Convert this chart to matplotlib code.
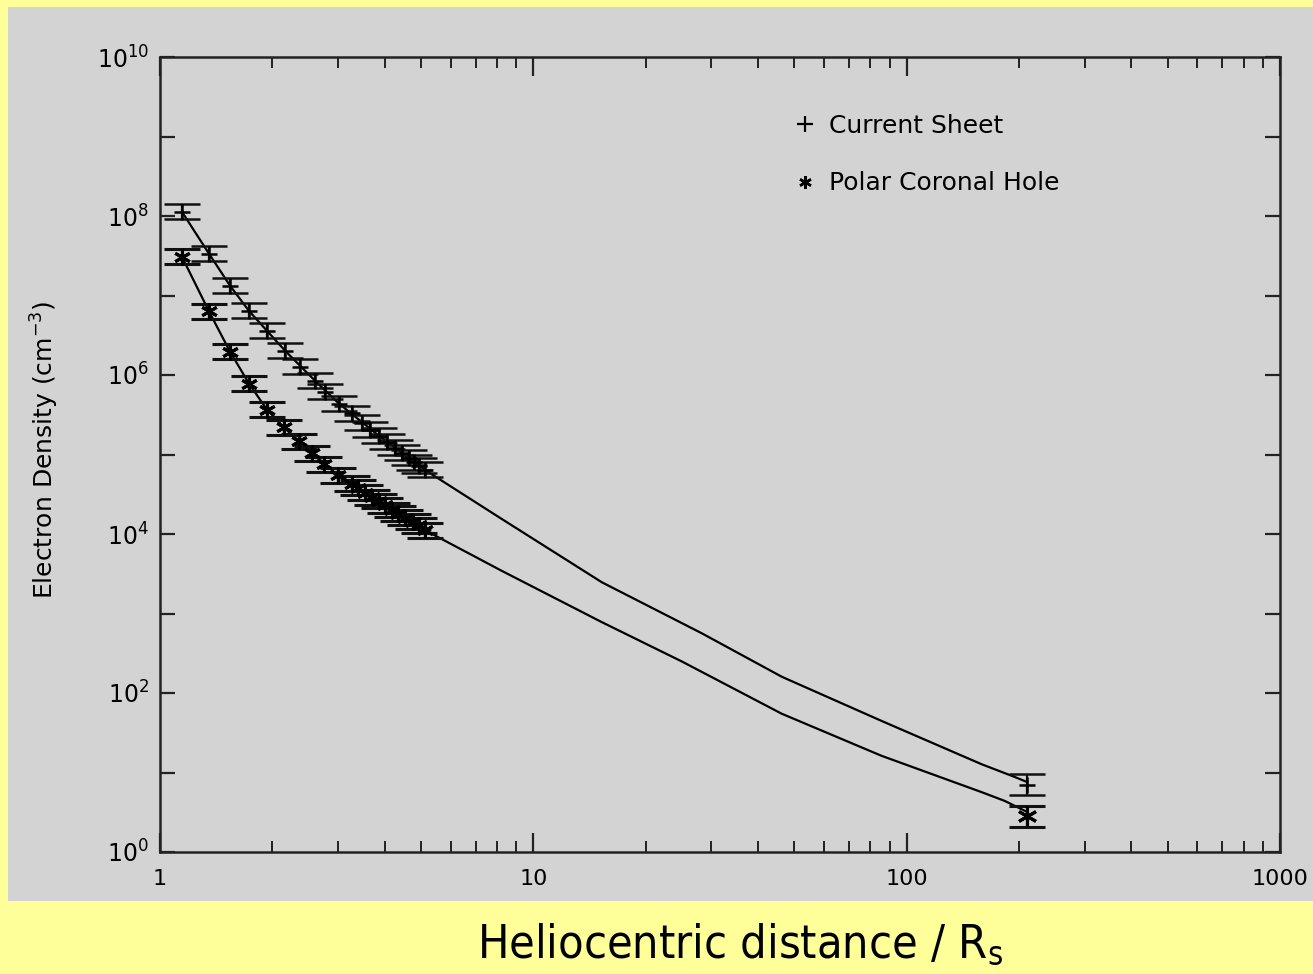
import matplotlib
matplotlib.use("Agg")
import matplotlib.pyplot as plt
from matplotlib.lines import Line2D
from matplotlib.patches import Rectangle
import numpy as np

# ---------------- data ----------------
cs_r = [1.145, 1.353, 1.540, 1.731, 1.934, 2.161, 2.371, 2.600, 2.765, 3.015,
        3.27, 3.475, 3.65, 3.858, 4.05, 4.258, 4.45, 4.642, 4.80, 4.936, 5.123]
cs_n = [1.13e8, 3.35e7, 1.33e7, 6.4e6, 3.6e6, 2.03e6, 1.27e6, 8.5e5, 6.2e5, 4.37e5,
        3.3e5, 2.5e5, 2.05e5, 1.72e5, 1.45e5, 1.22e5, 1.05e5, 9.1e4, 8.0e4, 7.2e4, 6.4e4]

pch_r = [1.145, 1.353, 1.540, 1.731, 1.934, 2.146, 2.356, 2.56, 2.75, 3.0,
         3.26, 3.40, 3.54, 3.70, 3.86, 4.0, 4.18, 4.35, 4.53, 4.75, 4.94, 5.12]
pch_n = [3.07e7, 6.3e6, 1.97e6, 7.8e5, 3.67e5, 2.2e5, 1.46e5, 1.03e5, 7.5e4, 5.45e4,
         4.3e4, 3.8e4, 3.3e4, 2.9e4, 2.6e4, 2.3e4, 2.0e4, 1.8e4, 1.6e4, 1.42e4, 1.28e4, 1.12e4]

err_factor = 1.24  # multiplicative error of coronal points

au_r = [210.0]
cs_au_n = [7.0]
cs_au_lo = [5.2]
cs_au_hi = [9.6]
pch_au_n = [2.8]
pch_au_lo = [2.05]
pch_au_hi = [3.75]

cs_fit_r = [1.145, 1.353, 1.54, 1.731, 1.934, 2.161, 2.6, 3.015, 3.858, 5.123,
            8.24, 15.26, 28.3, 46.3, 85.7, 158.8, 194.6, 210]
cs_fit_n = [1.13e8, 3.35e7, 1.33e7, 6.4e6, 3.6e6, 2.03e6, 8.5e5, 4.37e5, 1.72e5, 6.4e4,
            1.54e4, 2.47e3, 562, 160, 44.5, 12.7, 8.8, 7.6]

pch_fit_r = [1.145, 1.353, 1.54, 1.731, 1.934, 2.146, 2.56, 3.0, 3.86, 5.12,
             8.24, 15.26, 25.0, 46.3, 85.7, 158.8, 182.9, 210]
pch_fit_n = [3.07e7, 6.3e6, 1.97e6, 7.8e5, 3.67e5, 2.2e5, 1.03e5, 5.45e4, 2.6e4, 1.12e4,
             3.43e3, 778, 249, 54.8, 16.2, 5.66, 4.4, 3.2]

x_ticks = [1, 10, 100, 1000]
x_ticklabels = ["1", "10", "100", "1000"]
y_ticks = [10.0**k for k in range(0, 11)]
y_ticklabels = [r"$\mathregular{10^{%d}}$" % k if k % 2 == 0 else "" for k in range(0, 11)]

legend_labels = ["Current Sheet", "Polar Coronal Hole"]
xlabel_text = r"Heliocentric distance / R$_\mathregular{s}$"
ylabel_text = r"Electron Density (cm$^\mathregular{-3}$)"

# ---------------- style ----------------
YELLOW = "#FFFF99"
GRAY = "#D3D3D3"
W, H = 1313, 974

fig = plt.figure(figsize=(W / 100, H / 100), dpi=100, facecolor=YELLOW)
fig.patches.append(Rectangle((8 / W, 1 - 901 / H), (W - 8) / W, (901 - 7) / H,
                             transform=fig.transFigure, facecolor=GRAY,
                             edgecolor="none", zorder=-10))

left, right, top, bottom = 160, 1280, 57, 852
ax = fig.add_axes([left / W, 1 - bottom / H, (right - left) / W, (bottom - top) / H])
ax.set_facecolor(GRAY)
ax.set_xscale("log")
ax.set_yscale("log")
ax.set_xlim(1, 1000)
ax.set_ylim(1, 1e10)

def logerr(vals):
    v = np.asarray(vals)
    return np.vstack([v - v / err_factor, v * err_factor - v])

ekw = dict(ls="none", color="black", ecolor="#111111", elinewidth=1.6,
           capsize=13, capthick=2.2, zorder=3)

ax.errorbar(cs_r, cs_n, yerr=logerr(cs_n), marker="+", ms=11, mew=1.8, **ekw)
ax.errorbar(pch_r, pch_n, yerr=logerr(pch_n), marker=(6, 2, 0), ms=12, mew=2.2, **ekw)

cs_au = np.asarray(cs_au_n)
ax.errorbar(au_r, cs_au_n, yerr=[cs_au - np.asarray(cs_au_lo), np.asarray(cs_au_hi) - cs_au],
            marker="+", ms=12, mew=1.8, **ekw)
pch_au = np.asarray(pch_au_n)
ax.errorbar(au_r, pch_au_n, yerr=[pch_au - np.asarray(pch_au_lo), np.asarray(pch_au_hi) - pch_au],
            marker=(6, 2, 0), ms=14, mew=2.2, **ekw)

ax.plot(cs_fit_r, cs_fit_n, color="black", lw=1.6, zorder=2)
ax.plot(pch_fit_r, pch_fit_n, color="black", lw=1.6, zorder=2)

for s in ax.spines.values():
    s.set_linewidth(1.8)
    s.set_color("#222222")

ax.set_xticks(x_ticks)
ax.set_xticklabels(x_ticklabels)
ax.set_yticks(y_ticks)
ax.set_yticklabels(y_ticklabels)
ax.yaxis.set_minor_locator(matplotlib.ticker.NullLocator())
ax.xaxis.set_minor_locator(matplotlib.ticker.LogLocator(base=10, subs=np.arange(2, 10)))
ax.xaxis.set_minor_formatter(matplotlib.ticker.NullFormatter())
ax.tick_params(which="both", direction="in", top=True, right=True, color="#222222")
ax.tick_params(axis="x", which="major", length=14, width=1.6, pad=12, labelsize=16)
ax.tick_params(axis="x", which="minor", length=8, width=1.4)
ax.tick_params(axis="y", which="major", length=11, width=1.6, pad=8, labelsize=17)

handles = [Line2D([], [], ls="none", marker="+", ms=11, mew=1.6, color="black"),
           Line2D([], [], ls="none", marker=(6, 2, 0), ms=9, mew=1.8, color="black")]
ax.legend(handles, legend_labels, loc="upper left", bbox_to_anchor=(0.547, 0.957),
          frameon=False, fontsize=18, handlelength=0.8, handletextpad=0.55,
          labelspacing=1.35)

fig.text(45 / W, 1 - 450 / H, ylabel_text, rotation=90, ha="center", va="center",
         fontsize=18)
fig.text(740 / W, 1 - 945 / H, xlabel_text, ha="center", va="center",
         fontsize=33.5, family="DejaVu Sans", fontstretch="condensed")

fig.savefig("out.png", dpi=100, facecolor=YELLOW)
